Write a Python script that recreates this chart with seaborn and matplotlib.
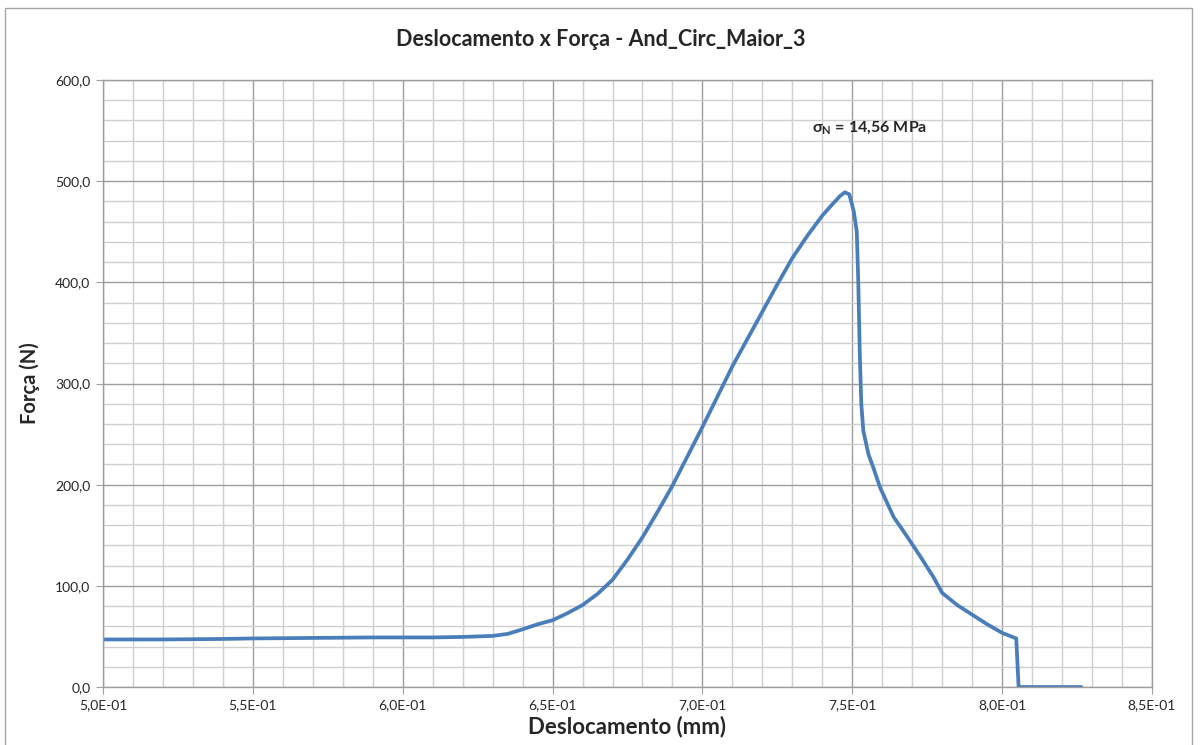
import matplotlib
matplotlib.use("Agg")
import matplotlib.pyplot as plt
from matplotlib.ticker import MultipleLocator, FuncFormatter
from matplotlib.patches import Rectangle
import seaborn as sns
import pandas as pd

# displacement (mm) and force (N)
deslocamento = [0.500, 0.520, 0.540, 0.550, 0.570, 0.590, 0.600, 0.610, 0.620,
                0.630, 0.635, 0.640, 0.645, 0.650, 0.655, 0.660, 0.665, 0.670,
                0.675, 0.680, 0.685, 0.690, 0.695, 0.700, 0.705, 0.710, 0.715,
                0.720, 0.725, 0.730, 0.735, 0.740, 0.743, 0.7458, 0.7475, 0.749,
                0.7505, 0.7515, 0.7520, 0.7525, 0.7530, 0.7537, 0.7554, 0.7570,
                0.7593, 0.7638, 0.7680, 0.7727, 0.7770, 0.7800, 0.7850, 0.7900,
                0.7950, 0.8000, 0.8047, 0.8055, 0.8264]
forca = [47.0, 47.0, 47.5, 48.0, 48.5, 49.0, 49.0, 49.0, 49.5,
         50.5, 52.5, 57.0, 62.0, 66.0, 73.0, 81.0, 92.0, 106.0,
         126.0, 148.0, 173.0, 199.0, 228.0, 257.0, 287.0, 317.0, 344.0,
         371.0, 398.0, 424.0, 446.0, 466.0, 476.0, 485.0, 489.0, 487.0,
         470.0, 450.0, 400.0, 330.0, 280.0, 253.0, 230.0, 217.0,
         197.0, 168.0, 150.0, 129.0, 109.0, 93.0, 81.0, 71.5,
         62.0, 53.5, 48.0, 0.0, 0.0]

titulo = "Deslocamento x Força - And_Circ_Maior_3"
anotacao = "σ$_{\\mathrm{N}}$ = 14,56 MPa"

df = pd.DataFrame({"Deslocamento": deslocamento, "Forca": forca})

sns.set_style("white")
plt.rcParams["font.family"] = ["Lato", "DejaVu Sans"]
plt.rcParams["mathtext.fontset"] = "custom"
plt.rcParams["mathtext.rm"] = "Lato:bold"

fig = plt.figure(figsize=(12.02, 7.45), dpi=100)
ax = fig.add_axes([103 / 1202, 1 - 687 / 745, (1152 - 103) / 1202, (687 - 80) / 745])

sns.lineplot(data=df, x="Deslocamento", y="Forca", ax=ax, color="#4A7EBB",
             linewidth=2.7, sort=False, estimator=None)

ax.set_xlim(0.5, 0.85)
ax.set_ylim(0, 600)
ax.xaxis.set_major_locator(MultipleLocator(0.05))
ax.xaxis.set_minor_locator(MultipleLocator(0.01))
ax.yaxis.set_major_locator(MultipleLocator(100))
ax.yaxis.set_minor_locator(MultipleLocator(20))
ax.xaxis.set_major_formatter(FuncFormatter(lambda v, p: f"{v:.1E}".replace(".", ",")))
ax.yaxis.set_major_formatter(FuncFormatter(lambda v, p: f"{v:.1f}".replace(".", ",")))

ax.grid(which="major", color="#9E9E9E", linewidth=1.0)
ax.grid(which="minor", color="#CFCFCF", linewidth=1.0)
ax.set_axisbelow(True)
for s in ax.spines.values():
    s.set_color("#9E9E9E")
    s.set_linewidth(1.0)
ax.tick_params(which="major", direction="out", length=5, color="#9E9E9E",
               labelsize=10, pad=4, left=True, bottom=True)
ax.tick_params(which="minor", length=0)

ax.set_xlabel("Deslocamento (mm)", fontsize=16, fontweight="bold", labelpad=3)
ax.set_ylabel("Força (N)", fontsize=14.5, fontweight="bold", labelpad=11)

fig.text(0.5, 1 - 40 / 745, titulo, ha="center", va="center",
         fontsize=15.5, fontweight="bold")
ax.text(0.7367, 552, anotacao, ha="left", va="center", fontsize=11.5,
        fontweight="bold")

# outer chart frame
fig.patches.append(Rectangle((5 / 1202, -0.1), (1192 - 5) / 1202, 1.1 - 8 / 745,
                             transform=fig.transFigure, fill=False,
                             edgecolor="#A6A6A6", linewidth=1.0))

fig.savefig("out.png", dpi=100, facecolor="white")
